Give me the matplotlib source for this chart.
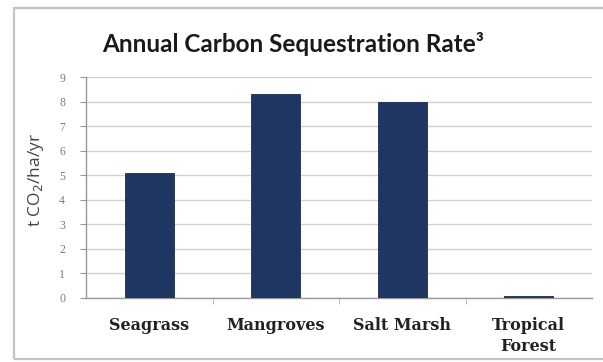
import matplotlib
matplotlib.use("Agg")
import matplotlib.pyplot as plt
from matplotlib.patches import Rectangle

categories = ["Seagrass", "Mangroves", "Salt Marsh", "Tropical\nForest"]
rates = [5.1, 8.3, 8.0, 0.1]
yticks = [0, 1, 2, 3, 4, 5, 6, 7, 8, 9]

W, H = 603, 362
fig = plt.figure(figsize=(W / 100, H / 100), dpi=100)
fig.patch.set_facecolor("white")

# outer chart frame
fig.patches.append(Rectangle((14 / W, 1 - 359 / H), (W + 5 - 14) / W, (359 - 8) / H,
                             transform=fig.transFigure, fill=False,
                             edgecolor="#c4c4c4", linewidth=1.6))

ax = fig.add_axes([86 / W, 1 - 298 / H, (592 - 86) / W, (298 - 77) / H])
x = list(range(len(categories)))
ax.bar(x, rates, width=0.39, color="#1f3662", edgecolor="#1a2c52", linewidth=0.6, zorder=3)

ax.set_xlim(-0.5, len(categories) - 0.5)
ax.set_ylim(0, 9)
ax.set_yticks(yticks)
ax.set_yticklabels([str(t) for t in yticks], fontsize=8.5, color="#7a7a7a",
                   family="Liberation Serif")
ax.yaxis.grid(True, color="#d0d0d0", linewidth=1.0, zorder=0)
ax.tick_params(axis="y", length=4, color="#9a9a9a", pad=11)

ax.set_xticks(x)
ax.set_xticklabels(categories, fontsize=11.5, fontweight="bold",
                   family="DejaVu Serif", color="#222222", linespacing=1.3)
ax.tick_params(axis="x", length=0, pad=14)
ax.set_xticks([i + 0.5 for i in range(len(categories) - 1)], minor=True)
ax.tick_params(axis="x", which="minor", length=4, color="#b0b0b0", direction="out")

for s in ["top", "right"]:
    ax.spines[s].set_visible(False)
ax.spines["left"].set_color("#9a9a9a")
ax.spines["bottom"].set_color("#9a9a9a")
ax.spines["left"].set_linewidth(1.0)
ax.spines["bottom"].set_linewidth(1.0)

fig.text(36 / W, 1 - 180 / H, "t CO$_2$/ha/yr", rotation=90, ha="center", va="center",
         fontsize=12.5, color="#444444", family="Open Sans")

fig.text(293 / W, 1 - 44 / H, "Annual Carbon Sequestration Rate³", ha="center", va="center",
         fontsize=17.5, fontweight="bold", family="Lato", color="#1a1a1a")

fig.savefig("out.png", dpi=100, facecolor="white")
